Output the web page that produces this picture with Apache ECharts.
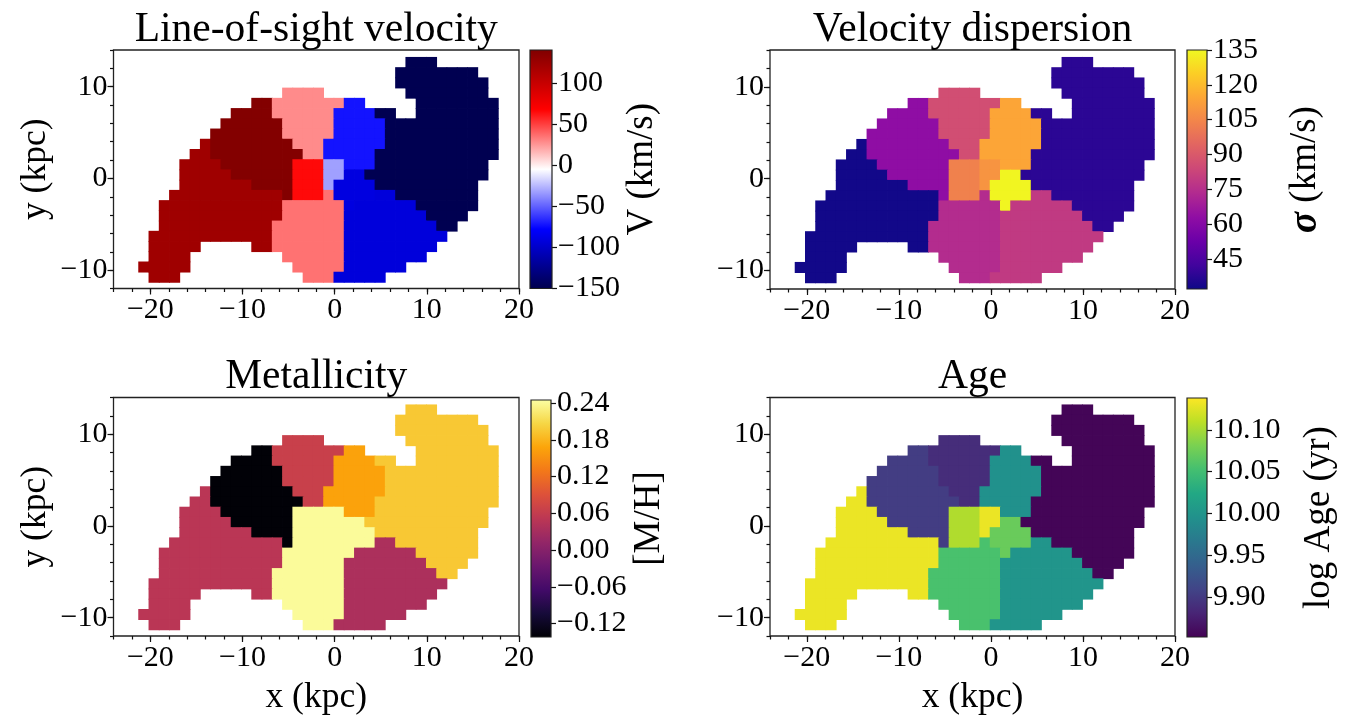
<!DOCTYPE html>
<html>
<head>
<meta charset="utf-8">
<title>Galaxy maps</title>
<script src="https://cdn.jsdelivr.net/npm/echarts@6/dist/echarts.min.js"></script>
<style>
  html, body { margin: 0; padding: 0; background: #fff; }
  #chart { width: 1345px; height: 717px; }
</style>
</head>
<body>
<div id="chart"></div>
<script>
// Voronoi bins, one value per bin for each map
var binNames    = ['A', 'B', 'C', 'D', 'E', 'F', 'G', 'H', 'I', 'J'];
var velocity    = [122, 138, 28, -72, -148, 65, -32, -90, 35, -92];
var dispersion  = [33, 63, 86, 114, 38, 103, 109, 134, 74, 79];
var metallicity = [0.05, -0.14, 0.065, 0.165, 0.195, 0.241, 0.241, 0.241, 0.241, 0.036];
var logAge      = [10.13, 9.903, 9.889, 9.995, 9.855, 10.104, 10.13, 10.072, 10.055, 10.0];

// pixel rows (top to bottom): [bin, first column, last column]
var binRuns = [
  [['E', 26, 28]],
  [['E', 25, 32]],
  [['E', 25, 33]],
  [['C', 14, 17], ['E', 26, 33]],
  [['B', 11, 12], ['C', 13, 19], ['D', 20, 21], ['E', 27, 34]],
  [['B', 9, 12], ['C', 13, 18], ['D', 19, 22], ['E', 23, 24], ['E', 27, 34]],
  [['B', 8, 13], ['C', 14, 18], ['D', 19, 23], ['E', 24, 34]],
  [['B', 7, 13], ['C', 14, 18], ['D', 19, 23], ['E', 24, 34]],
  [['A', 6, 6], ['B', 7, 14], ['C', 15, 17], ['D', 18, 23], ['E', 24, 34]],
  [['A', 5, 6], ['B', 7, 15], ['C', 16, 17], ['D', 18, 22], ['E', 23, 34]],
  [['A', 4, 7], ['B', 8, 14], ['F', 15, 17], ['G', 18, 19], ['D', 20, 22], ['E', 23, 33]],
  [['A', 4, 8], ['B', 9, 14], ['F', 15, 17], ['G', 18, 19], ['H', 20, 21], ['E', 22, 33]],
  [['A', 4, 10], ['B', 11, 14], ['F', 15, 17], ['G', 18, 18], ['H', 19, 22], ['E', 23, 32]],
  [['A', 3, 13], ['B', 14, 14], ['F', 15, 17], ['I', 18, 18], ['H', 19, 22], ['J', 23, 24], ['E', 25, 32]],
  [['A', 2, 13], ['I', 14, 19], ['H', 20, 20], ['J', 21, 26], ['E', 27, 32]],
  [['A', 2, 13], ['I', 14, 19], ['J', 20, 27], ['E', 28, 31]],
  [['A', 2, 12], ['I', 13, 19], ['J', 20, 28], ['E', 29, 30]],
  [['A', 1, 12], ['I', 13, 19], ['J', 20, 29]],
  [['A', 1, 5], ['A', 11, 12], ['I', 13, 19], ['J', 20, 28]],
  [['A', 1, 4], ['I', 14, 19], ['J', 20, 27]],
  [['A', 0, 4], ['I', 15, 19], ['J', 20, 25]],
  [['A', 1, 3], ['I', 16, 18], ['J', 19, 23]]
];

var xTicks = [-20, -10, 0, 10, 20];
var yTicks = [-10, 0, 10];
var velTicks = [-150, -100, -50, 0, 50, 100];
var sigTicks = [45, 60, 75, 90, 105, 120, 135];
var metTicks = [-0.12, -0.06, 0, 0.06, 0.12, 0.18, 0.24];
var ageTicks = [9.9, 9.95, 10.0, 10.05, 10.1];

var seismic = ['#00004c', '#0000ff', '#ffffff', '#ff0000', '#7f0000'];
var plasma  = ['#0d0887', '#41049d', '#6a00a8', '#8f0da4', '#b12a90', '#cc4778', '#e16462', '#f2844b', '#fca636', '#fcce25', '#f0f921'];
var inferno = ['#000004', '#160b39', '#420a68', '#6a176e', '#932667', '#bc3754', '#dd513a', '#f37819', '#fca50a', '#f6d746', '#fcffa4'];
var viridis = ['#440154', '#482475', '#414487', '#355f8d', '#2a788e', '#21918c', '#22a884', '#44bf70', '#7ad151', '#bddf26', '#fde725'];

var PIX = 1.115, X0 = -21.27, YTOP = 13.2;
var FONT = '"Liberation Serif", "Times New Roman", serif';

function cells(values) {
  var out = [];
  binRuns.forEach(function (row, r) {
    row.forEach(function (run) {
      var v = values[binNames.indexOf(run[0])];
      for (var c = run[1]; c <= run[2]; c++) {
        out.push([X0 + (c + 0.5) * PIX, YTOP - (r + 0.5) * PIX, v]);
      }
    });
  });
  return out;
}

function minus(s) { return String(s).replace('-', '\u2212'); }

var panels = [
  { title: 'Line-of-sight velocity', vals: velocity, cmap: seismic, min: -150, max: 140, ticks: velTicks, dec: 0,
    grid: { left: 113.5, top: 50, width: 405.5, height: 238.5 }, cbar: { left: 530, top: 50, width: 22, height: 238.5 },
    label: 'V (km/s)', gap: 70, xName: false, yName: true },
  { title: 'Velocity dispersion', vals: dispersion, cmap: plasma, min: 32, max: 135, ticks: sigTicks, dec: 0,
    grid: { left: 770, top: 50, width: 405, height: 239 }, cbar: { left: 1187, top: 50, width: 20, height: 239 },
    label: '{s|\u03c3} (km/s)', gap: 79, xName: false, yName: false },
  { title: 'Metallicity', vals: metallicity, cmap: inferno, min: -0.142, max: 0.245, ticks: metTicks, dec: 2,
    grid: { left: 113.5, top: 397.5, width: 405.5, height: 239.5 }, cbar: { left: 531, top: 400, width: 20, height: 237 },
    label: '[M/H]', gap: 70, xName: true, yName: true },
  { title: 'Age', vals: logAge, cmap: viridis, min: 9.852, max: 10.138, ticks: ageTicks, dec: 2,
    grid: { left: 770, top: 397.5, width: 405, height: 239.5 }, cbar: { left: 1187, top: 398, width: 20, height: 239 },
    label: 'log Age (yr)', gap: 94, xName: true, yName: false }
];

var grids = [], xAxes = [], yAxes = [], series = [], visualMaps = [], texts = [];
var tickStyle = { color: '#111', width: 1.2 };
var labelStyle = { color: '#000', fontFamily: FONT, fontSize: 30 };
var nameStyle = { color: '#000', fontFamily: FONT, fontSize: 35.5 };

panels.forEach(function (p, i) {
  grids.push(Object.assign({ show: true, borderColor: '#222', borderWidth: 1.3, backgroundColor: 'transparent' }, p.grid));
  var gi = grids.length - 1;

  // major + minor x axes
  xAxes.push({ type: 'value', gridIndex: gi, position: 'bottom', min: -24, max: 20,
    axisLine: { show: false, onZero: false }, splitLine: { show: false },
    axisTick: { customValues: xTicks, length: 6, lineStyle: tickStyle },
    axisLabel: Object.assign({ customValues: xTicks, margin: 7, formatter: minus }, labelStyle),
    name: p.xName ? 'x (kpc)' : '', nameLocation: 'middle', nameGap: 44, nameTextStyle: nameStyle });
  var xi = xAxes.length - 1;
  xAxes.push({ type: 'value', gridIndex: gi, position: 'bottom', min: -24, max: 20, interval: 2,
    axisLine: { show: false, onZero: false }, splitLine: { show: false }, axisLabel: { show: false },
    axisTick: { length: 3.5, lineStyle: tickStyle } });

  yAxes.push({ type: 'value', gridIndex: gi, position: 'left', min: -12, max: 14,
    axisLine: { show: false, onZero: false }, splitLine: { show: false },
    axisTick: { customValues: yTicks, length: 6, lineStyle: tickStyle },
    axisLabel: Object.assign({ customValues: yTicks, margin: 6, formatter: minus }, labelStyle),
    name: p.yName ? 'y (kpc)' : '', nameLocation: 'middle', nameGap: 60, nameRotate: 90, nameTextStyle: nameStyle });
  var yi = yAxes.length - 1;
  yAxes.push({ type: 'value', gridIndex: gi, position: 'left', min: -12, max: 14, interval: 2,
    axisLine: { show: false, onZero: false }, splitLine: { show: false }, axisLabel: { show: false },
    axisTick: { length: 3.5, lineStyle: tickStyle } });

  series.push({
    type: 'custom', xAxisIndex: xi, yAxisIndex: yi, data: cells(p.vals),
    renderItem: function (params, api) {
      var x = api.value(0), y = api.value(1);
      var a = api.coord([x - PIX / 2, y + PIX / 2]);
      var b = api.coord([x + PIX / 2, y - PIX / 2]);
      // slight overlap so neighbouring pixels leave no seams
      return { type: 'rect', shape: { x: a[0] - 0.4, y: a[1] - 0.4, width: b[0] - a[0] + 0.8, height: b[1] - a[1] + 0.8 },
        style: { fill: api.visual('color') } };
    }
  });
  visualMaps.push({ type: 'continuous', show: false, seriesIndex: series.length - 1, dimension: 2,
    min: p.min, max: p.max, inRange: { color: p.cmap } });

  // colour bar
  grids.push(Object.assign({ show: false }, p.cbar));
  var ci = grids.length - 1;
  xAxes.push({ type: 'value', gridIndex: ci, min: 0, max: 1, show: false });
  var cxi = xAxes.length - 1;
  yAxes.push({ type: 'value', gridIndex: ci, position: 'right', min: p.min, max: p.max,
    axisLine: { show: false, onZero: false }, splitLine: { show: false },
    axisTick: { customValues: p.ticks, length: 5, lineStyle: tickStyle },
    axisLabel: { customValues: p.ticks, margin: 6, fontSize: 30, color: '#000', fontFamily: FONT,
      formatter: function (v) { return minus(Number(v).toFixed(p.dec)); } },
    name: p.label, nameLocation: 'middle', nameGap: p.gap, nameRotate: 90,
    nameTextStyle: { color: '#000', fontFamily: FONT, fontSize: 37,
      rich: { s: { fontFamily: FONT, fontSize: 39, fontStyle: 'italic', fontWeight: 'bold', color: '#000' } } } });
  var cyi = yAxes.length - 1;
  var stops = p.cmap.map(function (c, k) { return { offset: k / (p.cmap.length - 1), color: c }; });
  series.push({
    type: 'custom', xAxisIndex: cxi, yAxisIndex: cyi, data: [[0, p.min]], silent: true,
    renderItem: function (params, api) {
      var a = api.coord([0, p.max]);
      var b = api.coord([1, p.min]);
      return { type: 'rect', shape: { x: a[0], y: a[1], width: b[0] - a[0], height: b[1] - a[1] },
        style: { fill: new echarts.graphic.LinearGradient(0, 1, 0, 0, stops), stroke: '#222', lineWidth: 1.2 } };
    }
  });

  texts.push({ type: 'text', x: p.grid.left + p.grid.width / 2, y: p.grid.top + 1,
    style: { text: p.title, font: '41.5px ' + FONT, fill: '#000', textAlign: 'center', textVerticalAlign: 'bottom' } });
});

var chart = echarts.init(document.getElementById('chart'));
chart.setOption({
  backgroundColor: '#fff',
  animation: false,
  grid: grids,
  xAxis: xAxes,
  yAxis: yAxes,
  visualMap: visualMaps,
  series: series,
  graphic: texts
});
</script>
</body>
</html>
